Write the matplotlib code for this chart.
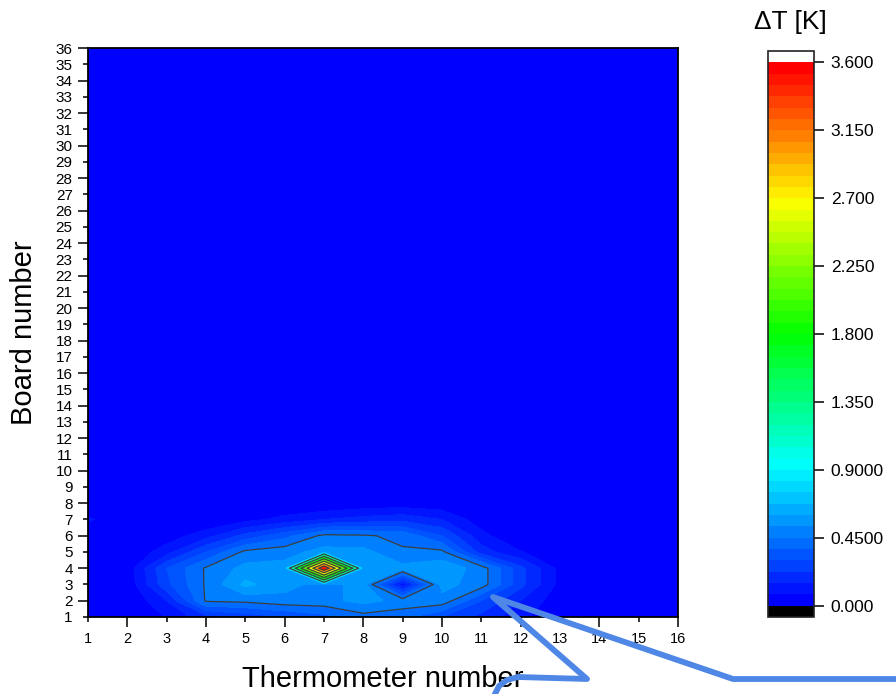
import numpy as np
import matplotlib.pyplot as plt
from matplotlib.colors import LinearSegmentedColormap, ListedColormap, BoundaryNorm
from matplotlib.lines import Line2D

plt.rcParams['font.family'] = ['Liberation Sans', 'DejaVu Sans']

thermometers = np.arange(1, 17)
boards = np.arange(1, 37)

# delta T [K] on the lowest boards, everything above board 8 reads 0
board_1 = [0, 0, 0.08, 0.2, 0.25, 0.3, 0.35, 0.42, 0.4, 0.3, 0.2, 0.1, 0, 0, 0, 0]
board_2 = [0, 0, 0.15, 0.46, 0.47, 0.5, 0.5, 0.55, 0.5, 0.5, 0.3, 0.15, 0.02, 0, 0, 0]
board_3 = [0, 0.02, 0.28, 0.46, 0.62, 0.55, 0.5, 0.55, 0.1, 0.55, 0.49, 0.25, 0.05, 0, 0, 0]
board_4 = [0, 0.03, 0.3, 0.46, 0.55, 0.55, 3.55, 0.55, 0.55, 0.58, 0.49, 0.25, 0.05, 0, 0, 0]
board_5 = [0, 0, 0.12, 0.3, 0.47, 0.5, 0.55, 0.55, 0.46, 0.47, 0.19, 0.08, 0.02, 0, 0, 0]
board_6 = [0, 0, 0.03, 0.12, 0.25, 0.35, 0.47, 0.46, 0.43, 0.3, 0.1, 0, 0, 0, 0, 0]
board_7 = [0.09, 0, 0, 0, 0.05, 0.1, 0.15, 0.18, 0.2, 0.15, 0.03, 0, 0, 0, 0, 0]
board_8 = [0, 0, 0, 0, 0, 0, 0, 0.02, 0.03, 0.02, 0, 0, 0, 0, 0, 0]

dT = np.zeros((len(boards), len(thermometers)))
for i, row in enumerate([board_1, board_2, board_3, board_4,
                         board_5, board_6, board_7, board_8]):
    dT[i] = row

fill_levels = np.linspace(0, 3.6, 49)
fill_levels[0] = -1e-6  # keep exact zeros inside the first band
line_levels = np.arange(0.45, 3.5, 0.45)
cbar_ticks = np.arange(0, 3.61, 0.45)
cbar_labels = ['0.000', '0.4500', '0.9000', '1.350', '1.800',
               '2.250', '2.700', '3.150', '3.600']

base = LinearSegmentedColormap.from_list(
    'rainbow5', ['#0000ff', '#00ffff', '#00ff00', '#ffff00', '#ff0000'])
cmap = ListedColormap(base(np.linspace(0, 1, 48)))
cmap.set_under('black')
cmap.set_over('white')
norm = BoundaryNorm(fill_levels, 48)

fig = plt.figure(figsize=(8.96, 6.94), dpi=100)
W, H = 896, 694
ax = fig.add_axes([88 / W, 77 / H, 590 / W, 569 / H])

X, Y = np.meshgrid(thermometers, boards)
cs = ax.contourf(X, Y, dT, levels=fill_levels, cmap=cmap, norm=norm, extend='both')
ax.contour(X, Y, dT, levels=line_levels, colors='#3c3c3c', linewidths=0.9)

ax.set_xlim(1, 16)
ax.set_ylim(1, 36)
ax.set_xticks(thermometers[thermometers % 2 == 0])
ax.set_xticks(thermometers[thermometers % 2 == 1], minor=True)
ax.set_xticklabels(thermometers[thermometers % 2 == 1], minor=True)
ax.set_yticks(boards[boards % 2 == 0])
ax.set_yticks(boards[boards % 2 == 1], minor=True)
ax.set_yticklabels(boards[boards % 2 == 1], minor=True)
ax.tick_params(axis='both', which='major', direction='out', length=7, width=1.1, pad=4)
ax.tick_params(axis='both', which='minor', direction='out', length=3.8, width=1.1, pad=7.2)
ax.tick_params(axis='x', which='both', labelsize=10.5)
ax.tick_params(axis='y', which='both', labelsize=11)
for s in ax.spines.values():
    s.set_linewidth(1.3)

ax.set_xlabel('Thermometer number', fontsize=21, va='baseline')
ax.xaxis.set_label_coords(0.5, -0.123)
ax.set_ylabel('Board number', fontsize=21, va='center')
ax.yaxis.set_label_coords(-0.108, 0.5)

cax = fig.add_axes([768 / W, 77 / H, 46 / W, 566 / H])
cb = fig.colorbar(cs, cax=cax, extendrect=True, extendfrac=0.021, ticks=cbar_ticks)
cb.ax.set_yticklabels(cbar_labels)
cb.ax.tick_params(direction='out', length=7, width=1.1, labelsize=12.5, pad=5)
cb.ax.minorticks_off()
cb.outline.set_linewidth(1.2)
cb.outline.set_edgecolor('#222222')
fig.text(790 / W, 1 - 22 / H, 'ΔT [K]', ha='center', va='center', fontsize=19)

# blue callout pointer left over from the slide
call_a = [(518, 677), (587, 679), (493, 597), (733, 679), (900, 679)]
call_b = [(518, 677), (507, 680), (499, 686), (494, 696)]
for pts in (call_a, call_b):
    xs = [p[0] / W for p in pts]
    ys = [1 - p[1] / H for p in pts]
    fig.add_artist(Line2D(xs, ys, transform=fig.transFigure, color='#4f87e6',
                          lw=4.2, solid_joinstyle='round', solid_capstyle='round'))

fig.savefig('out.png', dpi=100)
